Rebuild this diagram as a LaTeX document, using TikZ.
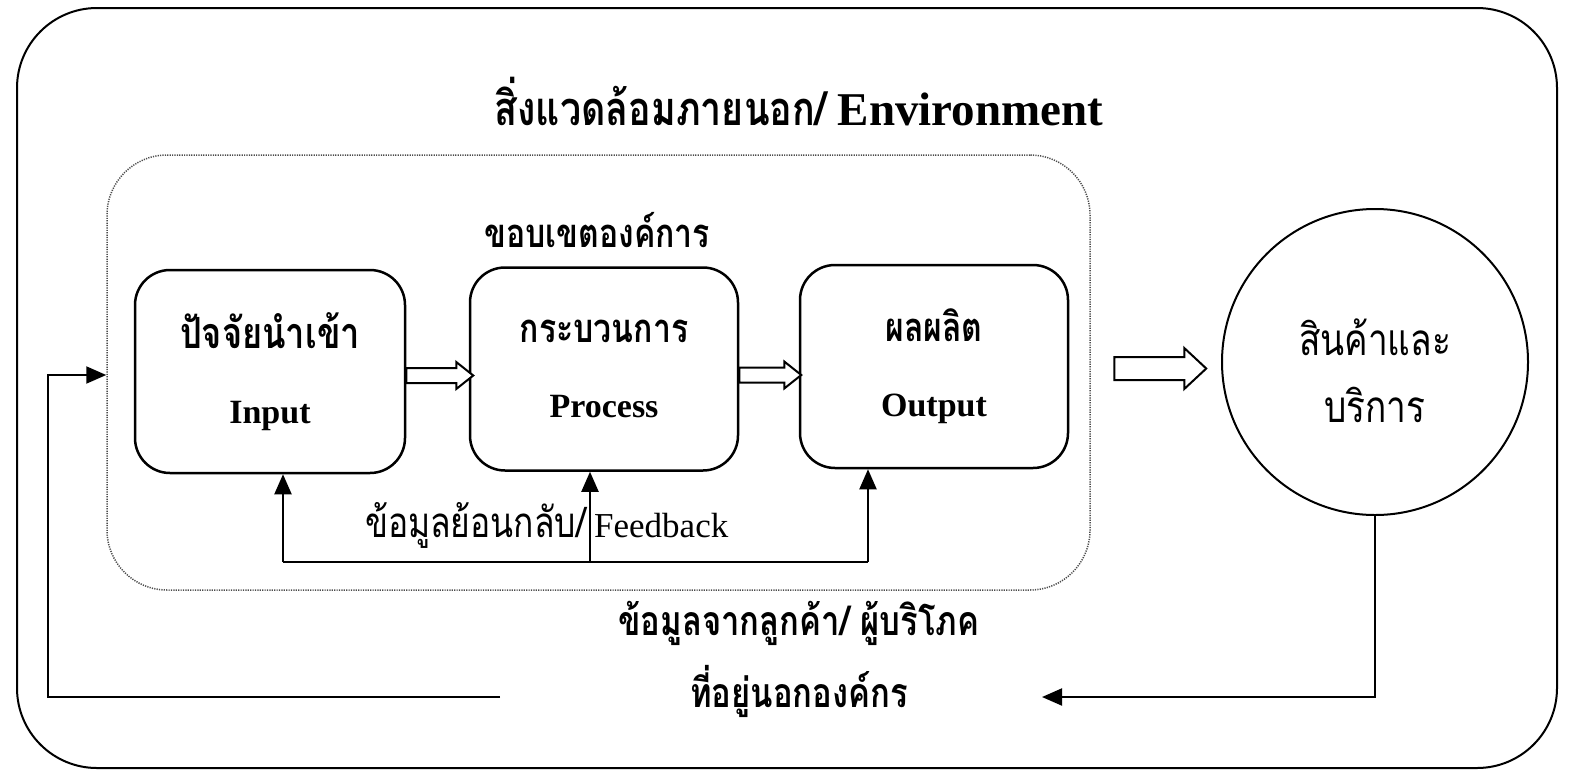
\documentclass[tikz,border=0pt]{standalone}
\usepackage{fontspec}
\setmainfont{Liberation Serif}
\newfontfamily\thai[Script=Thai, FakeStretch=0.8]{Loma}
\usetikzlibrary{arrows.meta,calc}
\tikzset{
  box/.style={draw, line width=2.5pt, rounded corners=35pt, minimum height=203pt, align=center,
    font=\fontsize{34pt}{75pt}\selectfont},
  ln/.style={line width=2pt},
  arr/.style={line width=2pt, -{Triangle[length=20pt,width=17pt]}},
  hollow/.style={draw, line width=2pt, line join=miter, fill=white},
}
\begin{document}
\begin{tikzpicture}[x=1pt,y=-1pt]
\useasboundingbox (0,0) rectangle (1571,772);
% outer environment
\node[draw, line width=2pt, rounded corners=80pt, minimum width=1540pt, minimum height=760pt] (env) at (787,388) {};
\node[font=\fontsize{47pt}{50pt}\selectfont\bfseries] (title) at (799,102) {{\thai สิ่งแวดล้อมภายนอก/} Environment};
% organisation boundary
\node[draw=black!70, line width=1.5pt, dash pattern=on 1.2pt off 1.2pt, rounded corners=60pt,
  minimum width=983pt, minimum height=435pt] (org) at (598.5,372.5) {};
\node[font=\fontsize{40pt}{44pt}\selectfont\bfseries\thai] (orgl) at (597,230) {ขอบเขตองค์การ};
% boxes
\node[box, minimum width=270pt] (in) at (270,371.5) {{\thai\bfseries\fontsize{43pt}{75pt}\selectfont ปัจจัยนำเข้า}\\ \textbf{Input}};
\node[box, minimum width=268pt] (pr) at (604,369) {{\thai\bfseries\fontsize{40pt}{75pt}\selectfont กระบวนการ}\\ \textbf{Process}};
\node[box, minimum width=268pt] (out) at (934,366.5) {{\thai\bfseries\fontsize{40pt}{75pt}\selectfont ผลผลิต}\\ \textbf{Output}};
% product circle
\node[draw, circle, line width=2pt, minimum size=306pt] (circ) at (1375,362) {};
\node[align=center, font=\fontsize{44pt}{67pt}\selectfont\thai] (circt) at (1375,371) {สินค้าและ\\บริการ};
% hollow arrows
\draw[hollow] ($(in.east)+(0,-3.5)$) -- ++(50,0) -- ++(0,-6) -- ++(17,13.5) -- ++(-17,13.5) -- ++(0,-6) -- ++(-50,0) -- cycle;
\draw[hollow] ($(pr.east)+(0,-1.5)$) -- ++(45,0) -- ++(0,-6) -- ++(17,13.5) -- ++(-17,13.5) -- ++(0,-6) -- ++(-45,0) -- cycle;
\draw[hollow] ($(out.east)+(45,-9.5)$) -- ++(70,0) -- ++(0,-9) -- ++(22,20.5) -- ++(-22,20.5) -- ++(0,-9) -- ++(-70,0) -- cycle;
% feedback
\coordinate (fbL) at (283,562);
\coordinate (fbM) at (590,562);
\coordinate (fbR) at (868,562);
\draw[ln] (fbL) -- (fbR);
\draw[arr] (fbL) -- (fbL |- in.south);
\draw[arr] (fbM) -- (fbM |- pr.south);
\draw[arr] (fbR) -- (fbR |- out.south);
\node[anchor=base east, inner sep=0pt, font=\fontsize{42pt}{44pt}\selectfont\thai] (fbth) at (586,537) {ข้อมูลย้อนกลับ/};
\node[anchor=base west, inner sep=0pt, font=\fontsize{35pt}{40pt}\selectfont] (fben) at (594,537) {Feedback};
% customer information
\node[align=center, font=\fontsize{41pt}{72pt}\selectfont\bfseries\thai] (cust) at (799,659) {ข้อมูลจากลูกค้า/ ผู้บริโภค\\ที่อยู่นอกองค์กร};
\coordinate (rc) at (1042,697);
\draw[arr] (circ.south) |- (rc);
\coordinate (l0) at (500,697);
\coordinate (l1) at (48,375);
\draw[arr] (l0) -| (l1) -- (l1 -| org.west);
\end{tikzpicture}
\end{document}
